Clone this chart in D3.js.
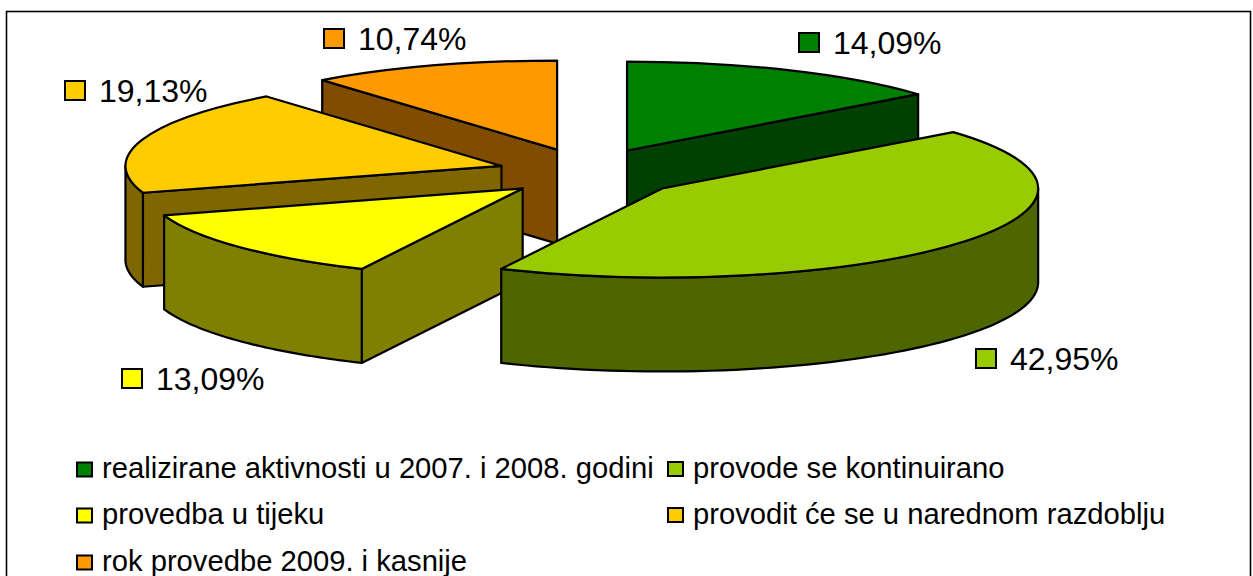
<!DOCTYPE html>
<html>
<head>
<meta charset="utf-8">
<script src="https://cdnjs.cloudflare.com/ajax/libs/d3/7.8.5/d3.min.js"></script>
<style>
html,body{margin:0;padding:0;background:#fff;overflow:hidden}
svg{display:block}
text{font-family:"Liberation Sans",Arial,sans-serif;fill:#000}
.outline{stroke:#000;stroke-width:2.2;stroke-linejoin:round;vector-effect:non-scaling-stroke}
</style>
</head>
<body>
<svg id="chart" width="1253" height="576"></svg>
<script>
// Data
const categories = [
  "realizirane aktivnosti u 2007. i 2008. godini",
  "provode se kontinuirano",
  "provedba u tijeku",
  "provodit će se u narednom razdoblju",
  "rok provedbe 2009. i kasnije"
];
const values = [14.09, 42.95, 13.09, 19.13, 10.74];
const percentLabels = ["14,09%", "42,95%", "13,09%", "19,13%", "10,74%"];
const topColors  = ["#008000", "#99CC00", "#FFFF00", "#FFCC00", "#FF9900"];
const sideColors = ["#004000", "#4D6600", "#808000", "#806600", "#804D00"];
// painter's order, back to front
const drawOrder = [0, 4, 3, 2, 1];

// Layout
const W = 1253, H = 576;
const cx = 587.6, cy = 172, rx = 376, ry = 89, depth = 94;
const explodeX = 0.245, explodeY = 0.273;
const sliceNudge = [[0, 0.5], [2, 1.5], [4.5, 0.5], [2, 1], [0, 0.5]];
const labelAnchors = [[799, 54], [976, 370], [122, 390], [65, 102], [324, 50]];
const legendAnchors = [[77, 469.5], [668, 469], [77, 515.5], [668, 515], [77, 562.5]];

const svg = d3.select("#chart");
svg.append("rect").attr("x", 6.5).attr("y", 11.5).attr("width", 1244).attr("height", 600)
  .attr("fill", "#fff").attr("stroke", "#000").attr("stroke-width", 1.6);

const sx = d3.scaleLinear().domain([-1, 1]).range([-rx, rx]);
const sy = d3.scaleLinear().domain([-1, 1]).range([-ry, ry]);
const pie = d3.pie().sort(null).value(d => d).startAngle(0).endAngle(2 * Math.PI);
const arcs = pie(values);
const arc = d3.arc().innerRadius(0).outerRadius(rx);
const line = d3.line().x(d => d[0]).y(d => d[1]);
const pt = (a, dy = 0) => [sx(Math.sin(a)), sy(-Math.cos(a)) + dy];

drawOrder.forEach(i => {
  const s = arcs[i];
  const mid = (s.startAngle + s.endAngle) / 2;
  const ox = cx + sx(Math.sin(mid)) * explodeX + sliceNudge[i][0];
  const oy = cy + sy(-Math.cos(mid)) * explodeY + sliceNudge[i][1];
  const g = svg.append("g").attr("transform", `translate(${ox},${oy})`);

  // radial cut faces that look towards the viewer
  [s.startAngle, s.endAngle].forEach((a, k) => {
    const visible = k === 0 ? Math.sin(a) < -1e-6 : Math.sin(a) > 1e-6;
    if (!visible) return;
    const p = pt(a);
    g.append("path").attr("class", "outline").attr("fill", sideColors[i])
      .attr("d", line([[0, 0], p, [p[0], p[1] + depth], [0, depth]]) + "Z");
  });

  // outer wall: the part of the rim on the near side of the ellipse
  const a0 = Math.max(s.startAngle, Math.PI / 2);
  const a1 = Math.min(s.endAngle, 3 * Math.PI / 2);
  if (a1 > a0) {
    const steps = d3.range(0, 61).map(t => a0 + (a1 - a0) * t / 60);
    const ring = steps.map(a => pt(a)).concat(steps.slice().reverse().map(a => pt(a, depth)));
    g.append("path").attr("class", "outline").attr("fill", sideColors[i]).attr("d", line(ring) + "Z");
  }

  // top surface
  g.append("path").attr("class", "outline").attr("fill", topColors[i])
    .attr("transform", `scale(1,${ry / rx})`)
    .attr("d", arc(s));
});

// Data labels
percentLabels.forEach((t, i) => {
  const [x, y] = labelAnchors[i];
  svg.append("rect").attr("x", x).attr("y", y - 21).attr("width", 20).attr("height", 19)
    .attr("fill", topColors[i]).attr("stroke", "#000").attr("stroke-width", 2);
  svg.append("text").attr("x", x + 34).attr("y", y).attr("font-size", 32).text(t);
});

// Legend
categories.forEach((t, i) => {
  const [x, y] = legendAnchors[i];
  svg.append("rect").attr("x", x).attr("y", y - 7).attr("width", 15).attr("height", 14)
    .attr("fill", topColors[i]).attr("stroke", "#000").attr("stroke-width", 2);
  svg.append("text").attr("x", x + 25).attr("y", y + 8.5).attr("font-size", 29.2).text(t);
});
</script>
</body>
</html>
